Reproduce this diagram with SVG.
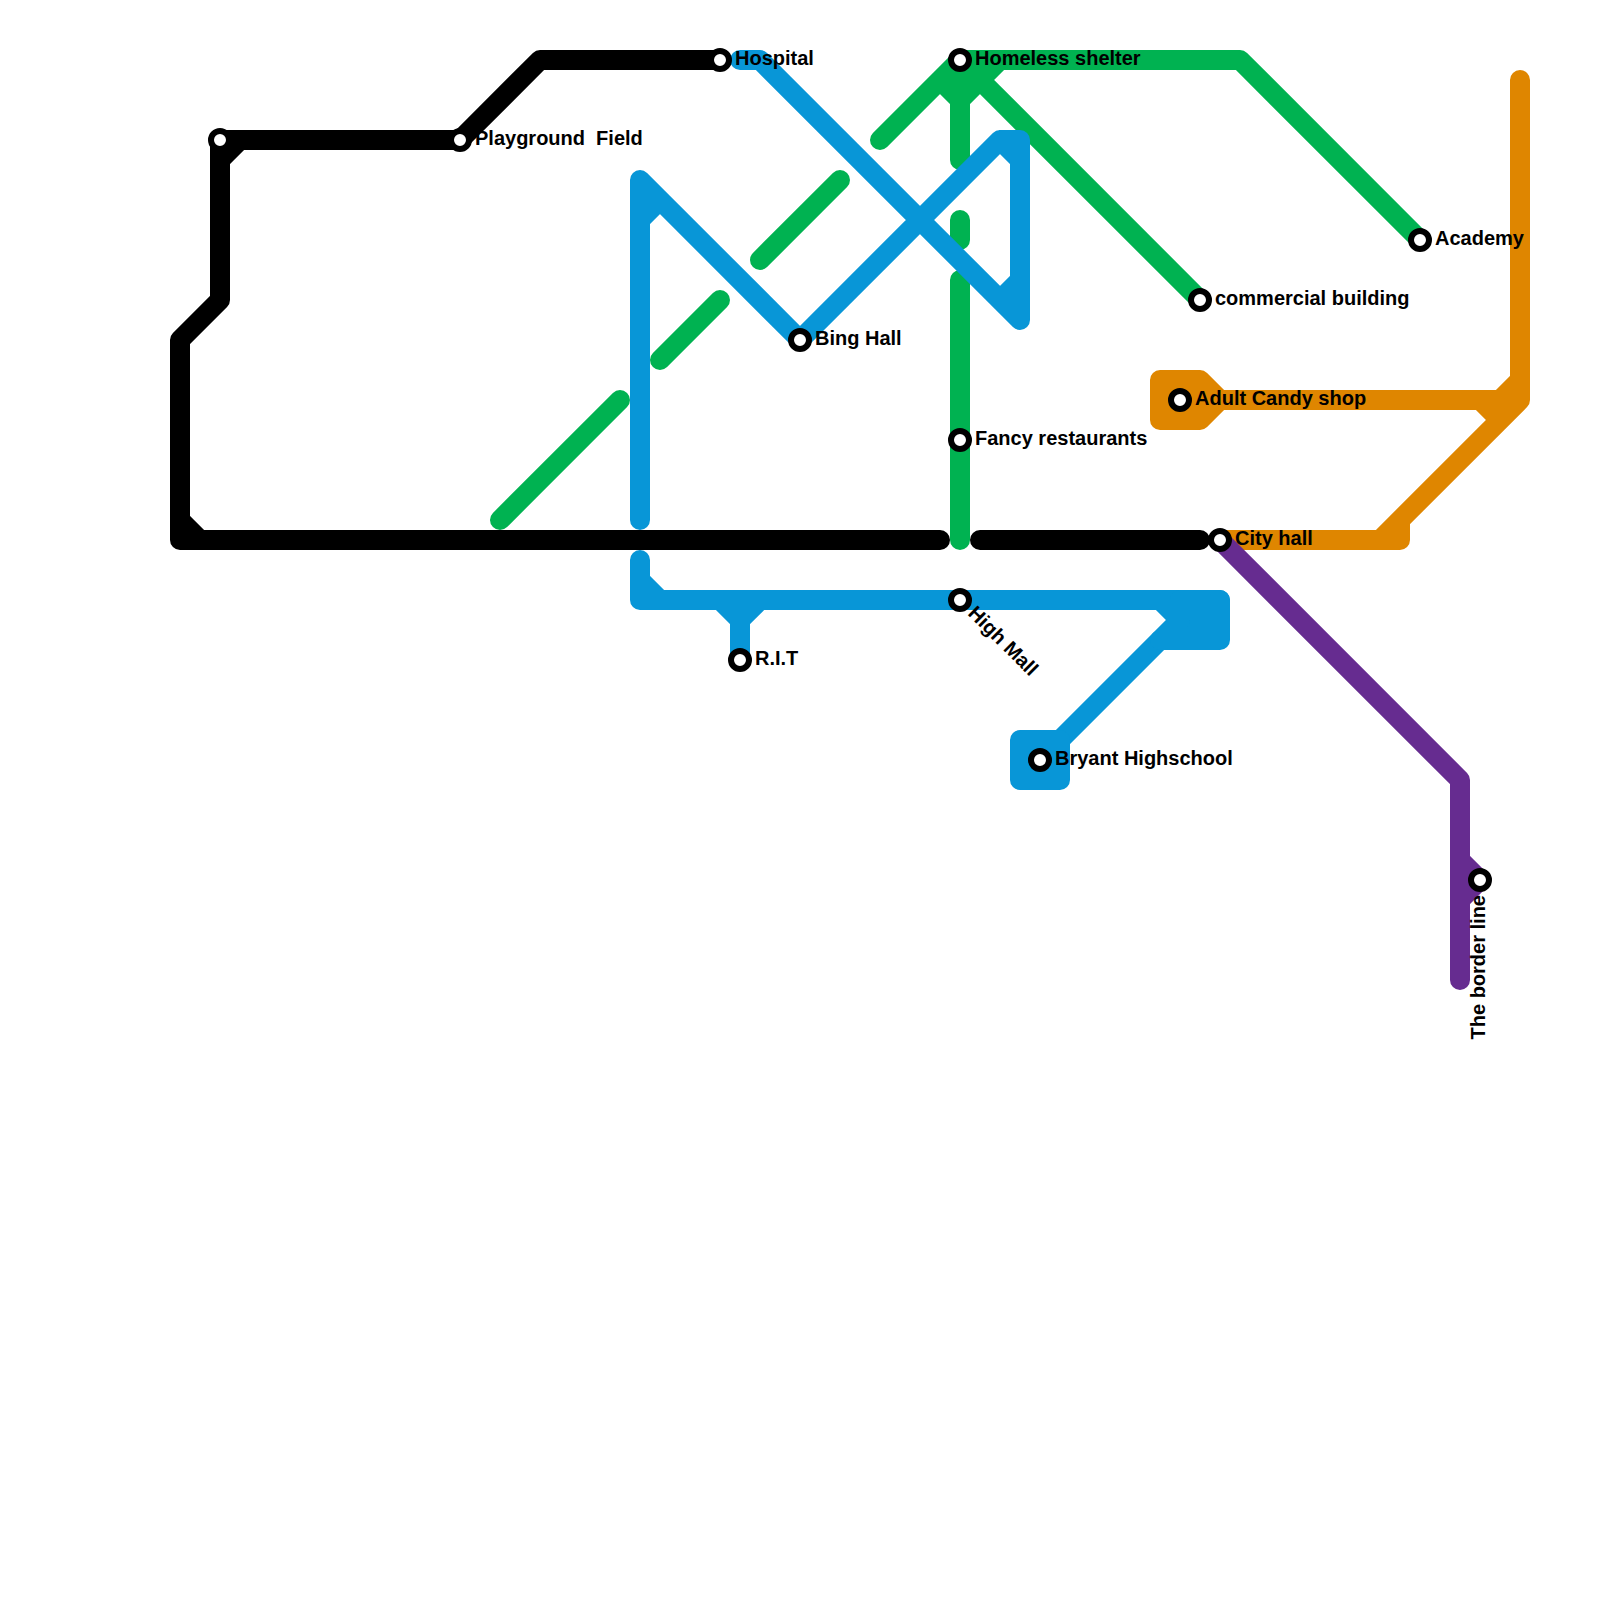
<svg xmlns="http://www.w3.org/2000/svg" width="1600" height="1600" viewBox="0 0 1600 1600">
<style>
.l{fill:none;stroke-width:20;stroke-linecap:round;stroke-linejoin:round}
.f{stroke-width:20;stroke-linecap:round;stroke-linejoin:round}
.k{stroke:#000}.g{stroke:#00b251}.b{stroke:#0896d7}.o{stroke:#df8600}.p{stroke:#662c90}
.s{fill:#fff;stroke:#000;stroke-width:6}
text{font-family:"Liberation Sans",Arial,sans-serif;font-size:20px;font-weight:700;fill:#000;white-space:pre}
</style>
<rect width="1600" height="1600" fill="#fff"/>
<g id="connectors">
<path class="l k" d="M720 60H540L460 140H220V300L180 340V540H940M220 160L240 140M180 520L200 540M980 540H1200"/>
<path class="l g" d="M500 520L620 400M660 360L720 300M760 260L840 180M880 140L960 60H1240L1420 240M960 60L1200 300M960 60V160M940 80L960 100L1000 60M960 220V240M960 280V540"/>
<path class="l b" d="M640 520V180L800 340L1000 140H1020V320L760 60H740M640 220L660 200M1000 140L1020 160M1000 300L1020 280"/>
<path class="l b" d="M640 560V600H1220M640 580L660 600M740 600V660M720 600L740 620L760 600M1160 640L1060 740M1160 600L1180 620"/>
<path class="f b" fill="#0896d7" d="M1180 600H1220V640H1160L1180 620Z"/>
<path class="f b" fill="#0896d7" d="M1020 740H1060V780H1020Z"/>
<path class="f o" fill="#df8600" d="M1160 380H1200L1220 400L1200 420H1160Z"/>
<path class="l o" d="M1220 400H1520V80M1520 400L1380 540M1400 520V540H1220M1480 400L1500 420M1500 400L1520 380"/>
<path class="l p" d="M1220 540L1460 780V980M1460 860L1480 880L1460 900"/>
</g>
<g id="node-unnamed"><circle class="s" cx="220" cy="140" r="9"/></g>
<g id="node-playground"><circle class="s" cx="460" cy="140" r="9"/><text x="475" y="145">Playground  Field</text></g>
<g id="node-hospital"><circle class="s" cx="720" cy="60" r="9"/><text x="735" y="65">Hospital</text></g>
<g id="node-homeless"><circle class="s" cx="960" cy="60" r="9"/><text x="975" y="65">Homeless shelter</text></g>
<g id="node-academy"><circle class="s" cx="1420" cy="240" r="9"/><text x="1435" y="245">Academy</text></g>
<g id="node-commercial"><circle class="s" cx="1200" cy="300" r="9"/><text x="1215" y="305">commercial building</text></g>
<g id="node-bing"><circle class="s" cx="800" cy="340" r="9"/><text x="815" y="345">Bing Hall</text></g>
<g id="node-adult"><circle class="s" cx="1180" cy="400" r="9"/><text x="1195" y="405">Adult Candy shop</text></g>
<g id="node-fancy"><circle class="s" cx="960" cy="440" r="9"/><text x="975" y="445">Fancy restaurants</text></g>
<g id="node-cityhall"><circle class="s" cx="1220" cy="540" r="9"/><text x="1235" y="545">City hall</text></g>
<g id="node-highmall"><circle class="s" cx="960" cy="600" r="9"/><text x="975" y="605" transform="rotate(45 960 600)">High Mall</text></g>
<g id="node-rit"><circle class="s" cx="740" cy="660" r="9"/><text x="755" y="665">R.I.T</text></g>
<g id="node-bryant"><circle class="s" cx="1040" cy="760" r="9"/><text x="1055" y="765">Bryant Highschool</text></g>
<g id="node-border"><circle class="s" cx="1480" cy="880" r="9"/><text x="1465" y="885" text-anchor="end" transform="rotate(-90 1480 880)">The border line</text></g>
</svg>
